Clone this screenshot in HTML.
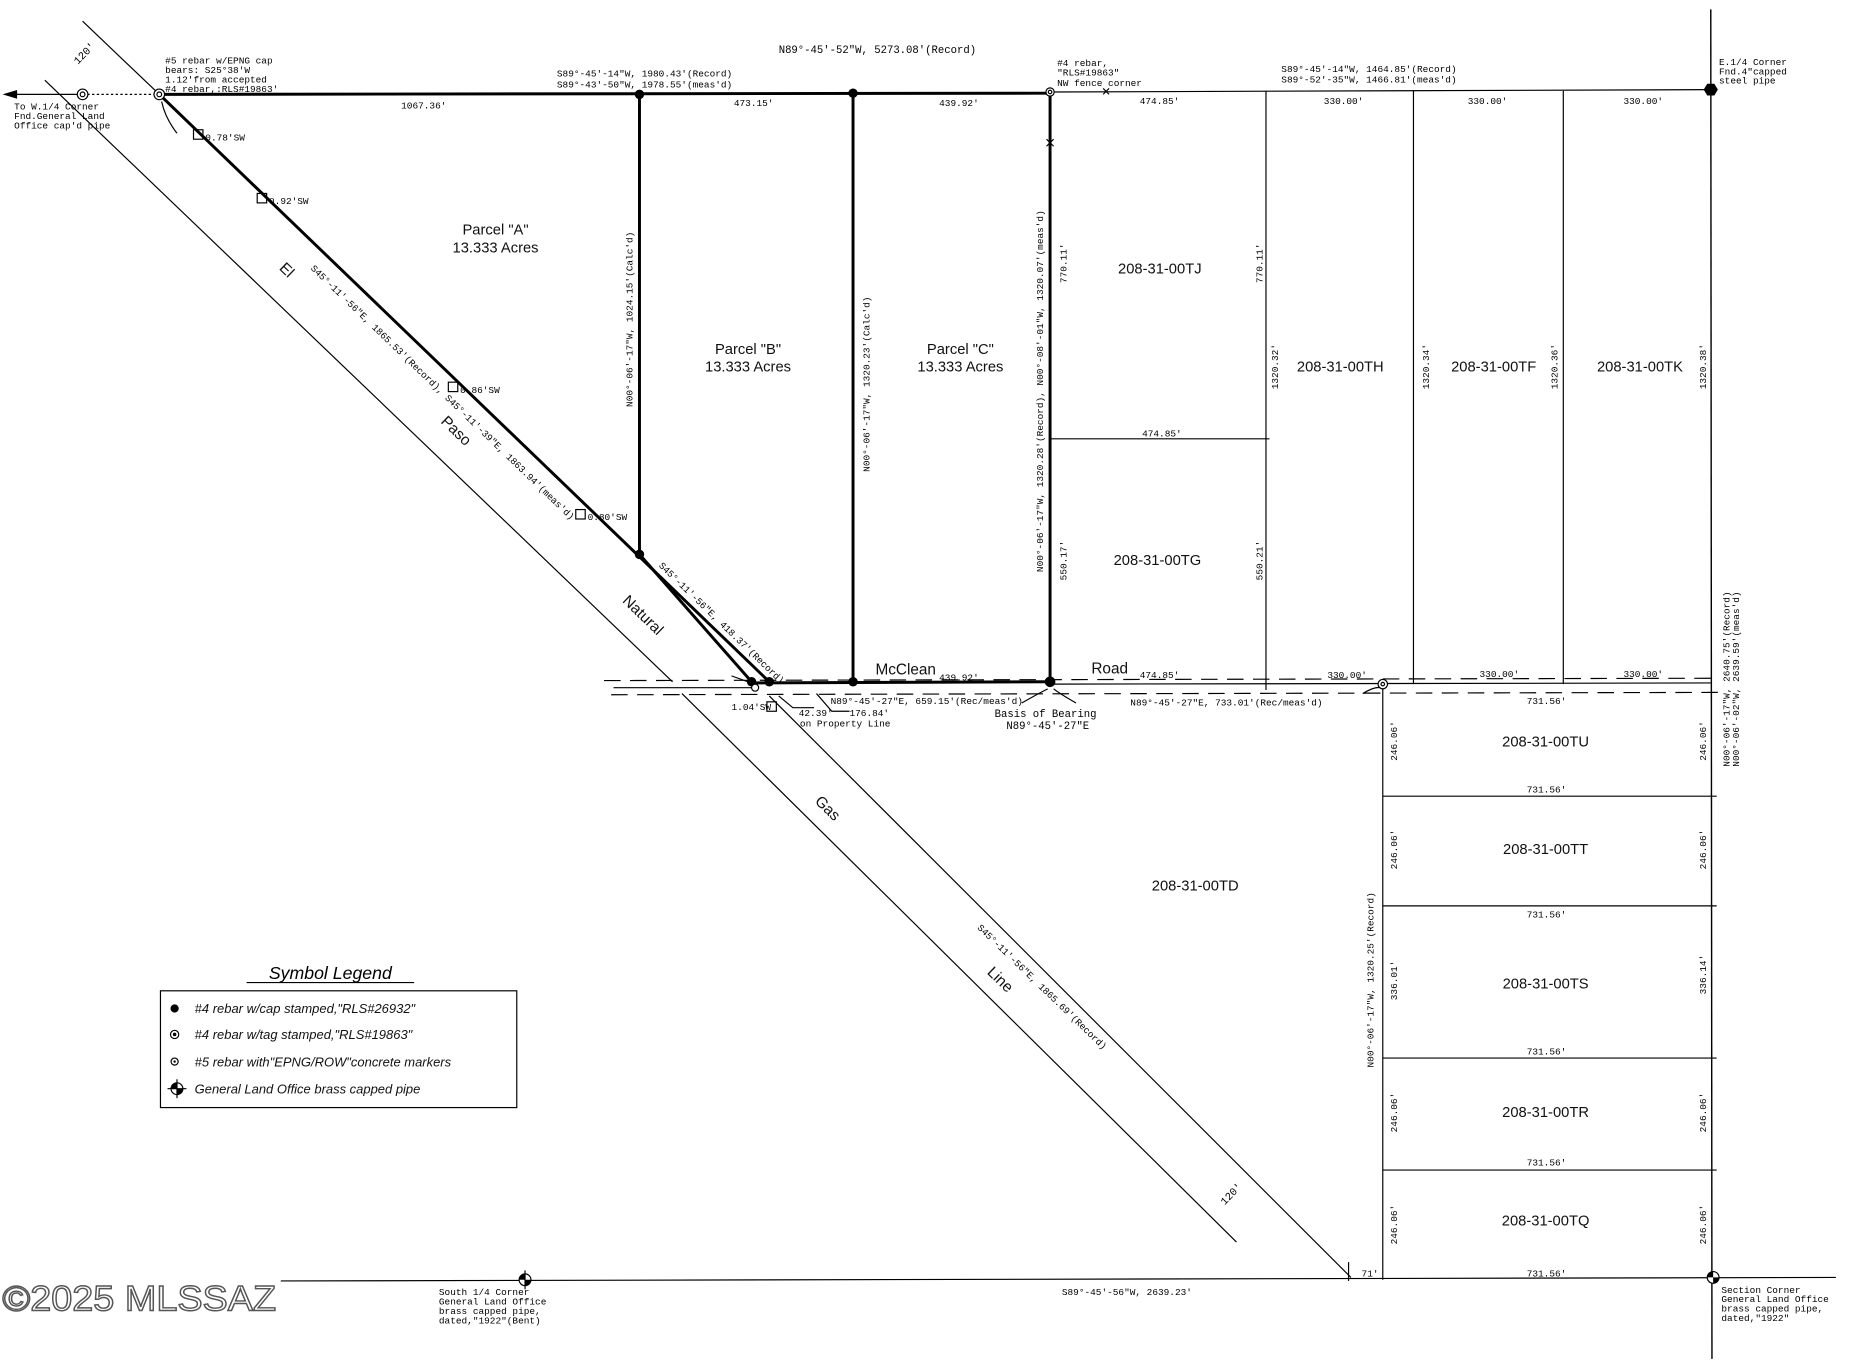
<!DOCTYPE html>
<html><head><meta charset="utf-8"><style>
html,body{margin:0;padding:0;background:#fff;}
svg{display:block;}
.s{font-family:"Liberation Mono",monospace;font-size:8px;fill:#000;}
.m{font-family:"Liberation Mono",monospace;font-size:9px;fill:#000;}
.p{font-family:"Liberation Sans",sans-serif;font-size:12.5px;fill:#111;}
.r{font-family:"Liberation Sans",sans-serif;font-size:13px;fill:#111;}
.l{font-family:"Liberation Sans",sans-serif;font-size:11px;fill:#111;font-style:italic;}
</style></head><body>
<svg width="1850" height="1360" viewBox="0 0 1568 1153" preserveAspectRatio="none" xmlns="http://www.w3.org/2000/svg">
<rect width="1568" height="1153" fill="#fff"/>
<g stroke="#000" fill="none">
<line x1="70" y1="80" x2="135" y2="80" stroke-width="1" stroke-dasharray="2,2"/>
<line x1="5" y1="80" x2="70" y2="80" stroke-width="1"/>
<polygon points="4,80 14,77 14,83" fill="#000"/>
<line x1="135" y1="80" x2="890" y2="79" stroke-width="2.5"/>
<line x1="890" y1="78" x2="1450" y2="76" stroke-width="1"/>
<line x1="1450" y1="8" x2="1451" y2="1152" stroke-width="1.2"/>
<line x1="238" y1="1086" x2="1556" y2="1083" stroke-width="1"/>
<line x1="70" y1="18" x2="135" y2="80" stroke-width="1"/>
<line x1="135" y1="80" x2="652" y2="578" stroke-width="2.5"/>
<line x1="38" y1="68" x2="570" y2="578" stroke-width="1"/>
<line x1="578" y1="588" x2="1048" y2="1053" stroke-width="1"/>
<line x1="652" y1="590" x2="1145" y2="1083" stroke-width="1"/>
<line x1="542" y1="80" x2="542" y2="470" stroke-width="2.5"/>
<line x1="542" y1="470" x2="637" y2="578" stroke-width="2.5"/>
<line x1="723" y1="80" x2="723" y2="578" stroke-width="2.5"/>
<line x1="890" y1="79" x2="890" y2="578" stroke-width="2.5"/>
<line x1="637" y1="579" x2="890" y2="578" stroke-width="2.5"/>
<line x1="890" y1="580" x2="1450" y2="579" stroke-width="1"/>
<line x1="512" y1="577" x2="1455" y2="575" stroke-width="1" stroke-dasharray="14,8"/>
<line x1="518" y1="589" x2="1458" y2="587" stroke-width="1" stroke-dasharray="14,8"/>
<line x1="520" y1="583" x2="637" y2="583" stroke-width="1"/>
<line x1="1073" y1="77" x2="1073" y2="585" stroke-width="1"/>
<line x1="1198" y1="77" x2="1198" y2="580" stroke-width="1"/>
<line x1="1325" y1="77" x2="1325" y2="580" stroke-width="1"/>
<line x1="890" y1="372" x2="1076" y2="372" stroke-width="1"/>
<line x1="1172" y1="580" x2="1172" y2="1085" stroke-width="1"/>
<line x1="1172" y1="675" x2="1455" y2="675" stroke-width="1"/>
<line x1="1172" y1="768" x2="1455" y2="768" stroke-width="1"/>
<line x1="1172" y1="897" x2="1455" y2="897" stroke-width="1"/>
<line x1="1172" y1="992" x2="1455" y2="992" stroke-width="1"/>
<line x1="1143" y1="1070" x2="1143" y2="1086" stroke-width="1"/>
<path d="M935,75 l5,5 M940,75 l-5,5 M887,118 l6,6 M893,118 l-6,6" stroke-width="1"/>
<rect x="164" y="110" width="8" height="8" stroke-width="1"/>
<rect x="218" y="164" width="8" height="8" stroke-width="1"/>
<rect x="380" y="324" width="8" height="8" stroke-width="1"/>
<rect x="488" y="432" width="8" height="8" stroke-width="1"/>
<rect x="650" y="595" width="8" height="8" stroke-width="1"/>
<path d="M150,113 Q140,100 137,86" stroke-width="1"/>
<path d="M1155,588 Q1165,582 1170,583" stroke-width="1"/>
<path d="M866,596 Q880,588 888,584" stroke-width="1"/>
<path d="M912,596 Q898,588 893,584" stroke-width="1"/>
<path d="M620,573 L634,578 M660,590 L672,600 L690,600 M692,588 L705,603 L720,603" stroke-width="1"/>
</g>
<g fill="#000">
<circle cx="542" cy="80" r="4"/><circle cx="723" cy="79" r="4"/>
<circle cx="542" cy="470" r="4"/><circle cx="723" cy="578" r="4"/>
<circle cx="890" cy="578" r="4.5"/><circle cx="637" cy="578" r="4"/><circle cx="652" cy="578" r="4"/>
<polygon points="1444,76 1447,71 1453,71 1456,76 1453,81 1447,81"/>
</g>
<g fill="#fff" stroke="#000">
<circle cx="135" cy="80" r="4.5"/><circle cx="135" cy="80" r="2"/>
<circle cx="70" cy="80" r="4.5"/><circle cx="70" cy="80" r="2"/>
<circle cx="890" cy="78" r="3.5"/><circle cx="890" cy="78" r="1.5"/>
<circle cx="1172" cy="580" r="4"/><circle cx="1172" cy="580" r="1.5"/>
<circle cx="640" cy="583" r="3"/>
<circle cx="445" cy="1085" r="5"/><circle cx="1452" cy="1083" r="5"/>
</g>
<path d="M445,1085 L445,1080 A5,5 0 0 0 440,1085Z M445,1085 L450,1085 A5,5 0 0 1 445,1090Z M1452,1083 L1452,1078 A5,5 0 0 0 1447,1083Z M1452,1083 L1457,1083 A5,5 0 0 1 1452,1088Z" fill="#000"/>
<line x1="445" y1="1077" x2="445" y2="1093" stroke="#000"/>
<g class="s">
<text x="140" y="54">#5 rebar w/EPNG cap</text>
<text x="140" y="62">bears: S25°38'W</text>
<text x="140" y="70">1.12'from accepted</text>
<text x="140" y="78">#4 rebar,:RLS#19863'</text>
<text x="12" y="93">To W.1/4 Corner</text>
<text x="12" y="101">Fnd.General Land</text>
<text x="12" y="109">Office cap'd pipe</text>
<text x="174" y="119">0.78'SW</text>
<text x="228" y="173">0.92'SW</text>
<text x="390" y="333">0.86'SW</text>
<text x="498" y="441">0.80'SW</text>
<text x="620" y="602">1.04'SW</text>
<text x="896" y="56">#4 rebar,</text>
<text x="896" y="64">"RLS#19863"</text>
<text x="896" y="73">NW fence corner</text>
<text x="1457" y="55">E.1/4 Corner</text>
<text x="1457" y="63">Fnd.4"capped</text>
<text x="1457" y="71">steel pipe</text>
<text x="372" y="1098">South 1/4 Corner</text>
<text x="372" y="1106">General Land Office</text>
<text x="372" y="1114">brass capped pipe,</text>
<text x="372" y="1122">dated,"1922"(Bent)</text>
<text x="1459" y="1096">Section Corner</text>
<text x="1459" y="1104">General Land Office</text>
<text x="1459" y="1112">brass capped pipe,</text>
<text x="1459" y="1120">dated,"1922"</text>
<text x="472" y="65">S89°-45'-14"W, 1980.43'(Record)</text>
<text x="472" y="74">S89°-43'-50"W, 1978.55'(meas'd)</text>
<text x="1086" y="61">S89°-45'-14"W, 1464.85'(Record)</text>
<text x="1086" y="70">S89°-52'-35"W, 1466.81'(meas'd)</text>
<text x="340" y="92">1067.36'</text>
<text x="622" y="90">473.15'</text>
<text x="796" y="90">439.92'</text>
<text x="966" y="88">474.85'</text>
<text x="1122" y="88">330.00'</text>
<text x="1244" y="88">330.00'</text>
<text x="1376" y="88">330.00'</text>
<text x="968" y="370">474.85'</text>
<text x="796" y="577">439.92'</text>
<text x="966" y="575">474.85'</text>
<text x="1125" y="575">330.00'</text>
<text x="1254" y="574">330.00'</text>
<text x="1376" y="574">330.00'</text>
<text x="1294" y="597">731.56'</text>
<text x="1294" y="672">731.56'</text>
<text x="1294" y="778">731.56'</text>
<text x="1294" y="894">731.56'</text>
<text x="1294" y="988">731.56'</text>
<text x="1294" y="1082">731.56'</text>
<text x="1154" y="1082">71'</text>
<text x="704" y="597">N89°-45'-27"E, 659.15'(Rec/meas'd)</text>
<text x="958" y="598">N89°-45'-27"E, 733.01'(Rec/meas'd)</text>
<text x="677" y="607">42.39'</text>
<text x="720" y="607">176.84'</text>
<text x="678" y="616">on Property Line</text>
<text x="900" y="1098">S89°-45'-56"W, 2639.23'</text>
</g>
<g class="m">
<text x="660" y="45">N89°-45'-52"W, 5273.08'(Record)</text>
<text x="843" y="608">Basis of Bearing</text>
<text x="853" y="618">N89°-45'-27"E</text>
</g>
<g class="s">
<text transform="translate(536,345) rotate(-90)">N00°-06'-17"W, 1024.15'(Calc'd)</text>
<text transform="translate(737,400) rotate(-90)">N00°-06'-17"W, 1320.23'(Calc'd)</text>
<text transform="translate(884,485) rotate(-90)">N00°-06'-17"W, 1320.28'(Record), N00°-08'-01"W, 1320.07'(meas'd)</text>
<text transform="translate(904,240) rotate(-90)">770.11'</text>
<text transform="translate(1070,240) rotate(-90)">770.11'</text>
<text transform="translate(904,492) rotate(-90)">550.17'</text>
<text transform="translate(1070,492) rotate(-90)">550.21'</text>
<text transform="translate(1083,330) rotate(-90)">1320.32'</text>
<text transform="translate(1211,330) rotate(-90)">1320.34'</text>
<text transform="translate(1320,330) rotate(-90)">1320.36'</text>
<text transform="translate(1446,330) rotate(-90)">1320.38'</text>
<text transform="translate(1466,650) rotate(-90)">N00°-06'-17"W, 2640.75'(Record)</text>
<text transform="translate(1474,650) rotate(-90)">N00°-06'-02"W, 2639.59'(meas'd)</text>
<text transform="translate(1164,905) rotate(-90)">N00°-06'-17"W, 1320.25'(Record)</text>
<text transform="translate(1184,645) rotate(-90)">246.06'</text>
<text transform="translate(1446,645) rotate(-90)">246.06'</text>
<text transform="translate(1184,737) rotate(-90)">246.06'</text>
<text transform="translate(1446,737) rotate(-90)">246.06'</text>
<text transform="translate(1184,848) rotate(-90)">336.01'</text>
<text transform="translate(1446,843) rotate(-90)">336.14'</text>
<text transform="translate(1184,960) rotate(-90)">246.06'</text>
<text transform="translate(1446,960) rotate(-90)">246.06'</text>
<text transform="translate(1184,1055) rotate(-90)">246.06'</text>
<text transform="translate(1446,1055) rotate(-90)">246.06'</text>
</g>
<g class="s">
<text transform="translate(263,228) rotate(44)">S45°-11'-56"E, 1865.53'(Record), S45°-11'-39"E, 1863.94'(meas'd)</text>
<text transform="translate(558,480) rotate(44)">S45°-11'-56"E, 418.37'(Record)</text>
<text transform="translate(828,787) rotate(44)">S45°-11'-56"E, 1865.69'(Record)</text>
<text class="m" transform="translate(66,55) rotate(-46)">120'</text>
<text class="m" transform="translate(1038,1022) rotate(-46)">120'</text>
</g>
<g class="r">
<text transform="translate(236,228) rotate(44)">El</text>
<text transform="translate(373,358) rotate(44)">Paso</text>
<text transform="translate(527,510) rotate(44)">Natural</text>
<text transform="translate(690,680) rotate(44)">Gas</text>
<text transform="translate(836,825) rotate(44)">Line</text>
<text x="742" y="572">McClean</text>
<text x="925" y="571">Road</text>
</g>
<g class="p" text-anchor="middle">
<text x="420" y="199">Parcel "A"</text><text x="420" y="214">13.333 Acres</text>
<text x="634" y="300">Parcel "B"</text><text x="634" y="315">13.333 Acres</text>
<text x="814" y="300">Parcel "C"</text><text x="814" y="315">13.333 Acres</text>
<text x="983" y="232">208-31-00TJ</text>
<text x="1136" y="315">208-31-00TH</text>
<text x="1266" y="315">208-31-00TF</text>
<text x="1390" y="315">208-31-00TK</text>
<text x="981" y="479">208-31-00TG</text>
<text x="1310" y="633">208-31-00TU</text>
<text x="1310" y="724">208-31-00TT</text>
<text x="1013" y="755">208-31-00TD</text>
<text x="1310" y="838">208-31-00TS</text>
<text x="1310" y="947">208-31-00TR</text>
<text x="1310" y="1039">208-31-00TQ</text>
</g>
<text x="280" y="830" text-anchor="middle" style="font-family:'Liberation Sans',sans-serif;font-size:15px;font-style:italic">Symbol Legend</text>
<line x1="209" y1="833" x2="351" y2="833" stroke="#000"/>
<rect x="136" y="840" width="302" height="99" fill="none" stroke="#000"/>
<circle cx="148" cy="855" r="3.5" fill="#000"/>
<circle cx="148" cy="877" r="3.5" fill="#fff" stroke="#000"/><circle cx="148" cy="877" r="1.5" fill="#000"/>
<circle cx="148" cy="900" r="3" fill="#fff" stroke="#000"/><circle cx="148" cy="900" r="1" fill="#000"/>
<circle cx="150" cy="923" r="5" fill="#fff" stroke="#000"/>
<path d="M150,923 L150,918 A5,5 0 0 0 145,923Z M150,923 L155,923 A5,5 0 0 1 150,928Z" fill="#000"/>
<line x1="142" y1="923" x2="158" y2="923" stroke="#000"/><line x1="150" y1="915" x2="150" y2="931" stroke="#000"/>
<g class="l">
<text x="165" y="859">#4 rebar w/cap stamped,"RLS#26932"</text>
<text x="165" y="881">#4 rebar w/tag stamped,"RLS#19863"</text>
<text x="165" y="904">#5 rebar with"EPNG/ROW"concrete markers</text>
<text x="165" y="927">General Land Office brass capped pipe</text>
</g>
<text x="2" y="1111" textLength="232" lengthAdjust="spacingAndGlyphs" style="font-family:'Liberation Sans',sans-serif;font-size:30px;fill:none;stroke:#555;stroke-width:1.2">©2025 MLSSAZ</text>
</svg>
</body></html>
